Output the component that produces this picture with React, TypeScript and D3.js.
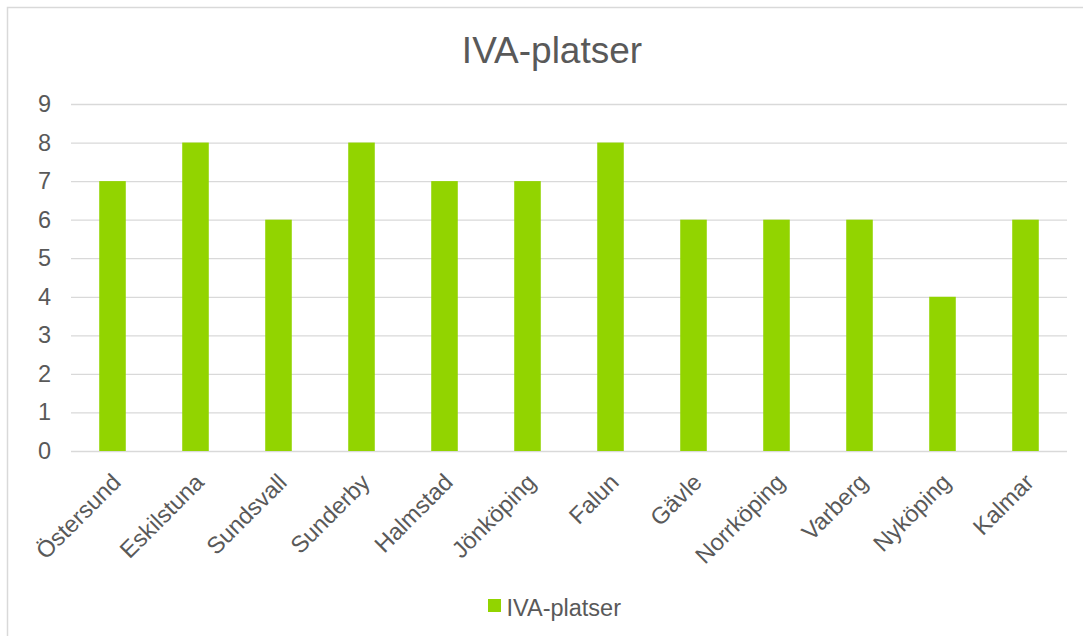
import React, { useEffect, useRef } from "react";
import * as d3 from "d3";

const categories = [
  "Östersund",
  "Eskilstuna",
  "Sundsvall",
  "Sunderby",
  "Halmstad",
  "Jönköping",
  "Falun",
  "Gävle",
  "Norrköping",
  "Varberg",
  "Nyköping",
  "Kalmar",
];
const values = [7, 8, 6, 8, 7, 7, 8, 6, 6, 6, 4, 6];
const yTicks = [0, 1, 2, 3, 4, 5, 6, 7, 8, 9];
const seriesName = "IVA-platser";
const title = "IVA-platser";

const App: React.FC = () => {
  const svgRef = useRef<SVGSVGElement | null>(null);

  useEffect(() => {
    const width = 1083;
    const height = 636;
    const margin = { top: 104, right: 16, bottom: 185, left: 71 };
    const font = "'Liberation Sans', Arial, sans-serif";
    const textColor = "#595959";
    const green = "#92D400";

    const svg = d3.select(svgRef.current);
    svg.selectAll("*").remove();
    svg.attr("width", width).attr("height", height);

    svg.append("rect").attr("width", width).attr("height", height).attr("fill", "#fff");

    // chart frame (top and left edges visible)
    svg
      .append("path")
      .attr("d", `M7.5,${height} L7.5,7.5 L${width},7.5`)
      .attr("fill", "none")
      .attr("stroke", "#d9d9d9")
      .attr("stroke-width", 1.5);

    const x = d3
      .scaleBand()
      .domain(categories)
      .range([margin.left, width - margin.right])
      .paddingInner(0.68)
      .paddingOuter(0.34);

    const y = d3
      .scaleLinear()
      .domain([0, 9])
      .range([height - margin.bottom, margin.top]);

    // Gridlines
    svg
      .append("g")
      .attr("transform", `translate(${margin.left},0)`)
      .call(
        d3
          .axisLeft(y)
          .tickValues(yTicks)
          .tickSize(-(width - margin.left - margin.right))
          .tickFormat(() => "")
      )
      .call(g => g.select(".domain").remove())
      .call(g => g.selectAll("line").attr("stroke", "#d9d9d9").attr("stroke-width", 1.3));

    // Y labels
    svg
      .append("g")
      .attr("transform", `translate(51,0)`)
      .call(d3.axisLeft(y).tickValues(yTicks).tickSize(0).tickPadding(0))
      .call(g => g.select(".domain").remove())
      .call(g =>
        g
          .selectAll("text")
          .attr("font-family", font)
          .attr("font-size", "23.5px")
          .attr("fill", textColor)
      );

    // Bars
    svg
      .append("g")
      .selectAll("rect")
      .data(values)
      .join("rect")
      .attr("x", (d, i) => x(categories[i])!)
      .attr("y", d => y(d))
      .attr("width", x.bandwidth())
      .attr("height", d => y(0) - y(d))
      .attr("fill", green);

    // X labels, rotated 45 degrees
    svg
      .append("g")
      .selectAll("text")
      .data(categories)
      .join("text")
      .attr(
        "transform",
        d => `translate(${x(d)! + x.bandwidth() / 2 + 4},${y(0) + 27}) rotate(-45)`
      )
      .attr("text-anchor", "end")
      .attr("dy", "0.35em")
      .attr("font-family", font)
      .attr("font-size", "23.5px")
      .attr("fill", textColor)
      .text(d => d);

    // Title
    svg
      .append("text")
      .attr("x", 552)
      .attr("y", 63)
      .attr("text-anchor", "middle")
      .attr("font-family", font)
      .attr("font-size", "37px")
      .attr("fill", textColor)
      .text(title);

    // Legend
    const legend = svg.append("g").attr("transform", "translate(488,599)");
    legend.append("rect").attr("width", 13).attr("height", 13).attr("fill", green);
    legend
      .append("text")
      .attr("x", 18.5)
      .attr("y", 16.5)
      .attr("font-family", font)
      .attr("font-size", "23.5px")
      .attr("fill", textColor)
      .text(seriesName);
  }, []);

  return (
    <div style={{ position: "absolute", left: 0, top: 0 }}>
      <svg ref={svgRef} style={{ display: "block" }}></svg>
    </div>
  );
};

export default App;
